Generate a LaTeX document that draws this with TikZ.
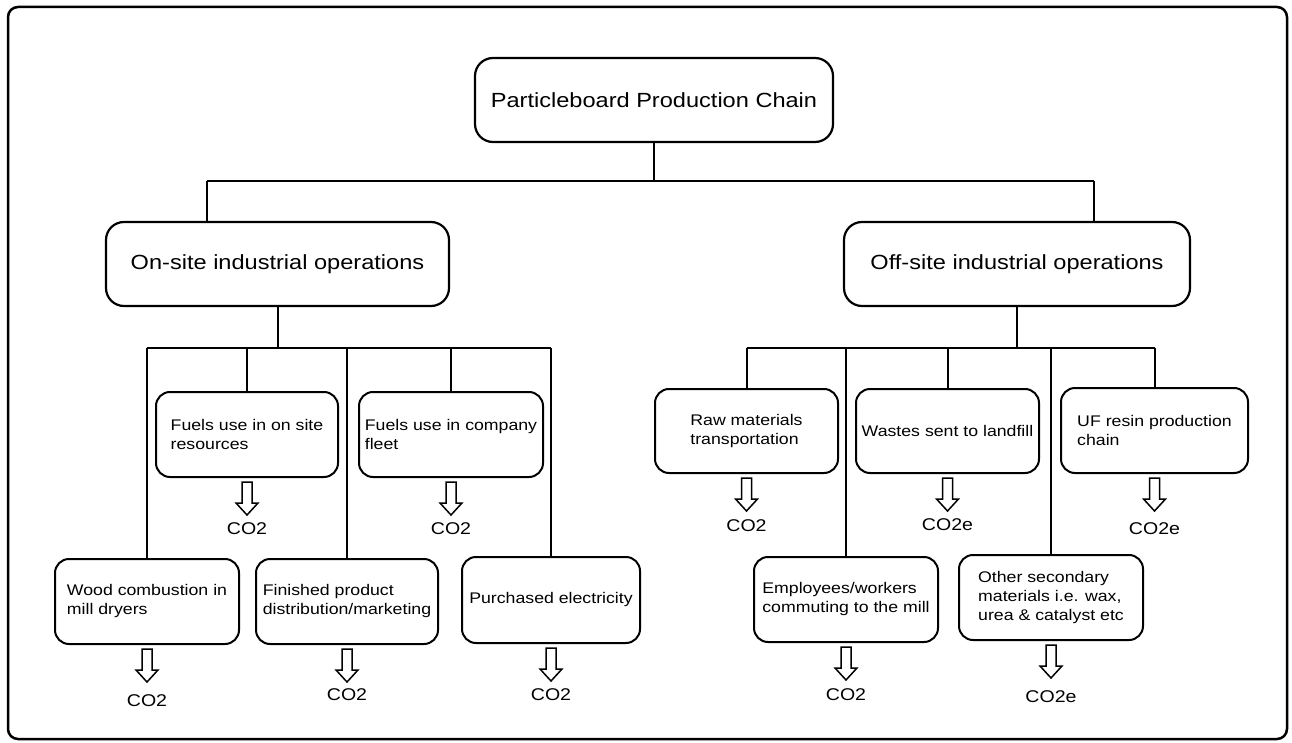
\documentclass[tikz,border=0pt]{standalone}
\usepackage{fontspec}
\setmainfont{Liberation Sans}[FakeStretch=1.15]
\begin{document}
\begin{tikzpicture}[x=1pt,y=-1pt,
  box/.style={draw, line width=2pt, rounded corners=14pt, align=left, inner sep=2pt,
    minimum width=183pt, minimum height=85pt, font=\fontsize{15.4}{19}\selectfont},
  bigbox/.style={draw, line width=2.2pt, rounded corners=18pt, inner sep=0pt,
    minimum height=84pt, font=\fontsize{20.5}{24}\selectfont},
  conn/.style={line width=2pt},
  lbl/.style={font=\fontsize{17}{20}\selectfont, inner sep=0pt},
  emarrow/.pic={\draw[line width=1.5pt, line join=miter]
    (-5,0) -- (-5,21) -- (-11,21) -- (0,33) -- (11,21) -- (5,21) -- (5,0) -- cycle;}
]
\useasboundingbox (0,0) rectangle (1292,743);
\draw[line width=2.5pt, rounded corners=10pt] (8,7) rectangle (1287,739);

% top level
\node[bigbox, minimum width=358pt] (title) at (654,100) {Particleboard Production Chain};
\node[bigbox, minimum width=343pt] (onsite) at (277.5,264) {On-site industrial operations};
\node[bigbox, minimum width=346pt] (offsite) at (1017,264) {Off-site industrial operations};

% on-site children
\node[box, minimum width=182pt] (fuels1) at (247,434.5) {Fuels use in on site\\resources};
\node[box, minimum width=184pt] (fuels2) at (451,434.5) {Fuels use in company\\fleet};
\node[box, minimum width=184pt] (wood) at (147,601.5) {Wood combustion in\\mill dryers};
\node[box, minimum width=182pt] (finished) at (347,601.5) {Finished product\\distribution/marketing};
\node[box, minimum width=178pt, minimum height=86pt] (purch) at (551,600) {Purchased electricity};

% off-site children
\node[box, minimum height=84pt] (raw) at (746.5,431) {Raw materials\\transportation};
\node[box, minimum height=84pt] (wastes) at (947.5,431) {Wastes sent to landfill};
\node[box, minimum width=187pt] (uf) at (1154.5,430.5) {UF resin production\\chain};
\node[box, minimum width=184pt] (empl) at (846,599.5) {Employees/workers\\commuting to the mill};
\node[box, minimum width=184pt] (other) at (1051,597.5) {Other secondary\\materials i.e. wax,\\urea \& catalyst etc};

% connectors
\coordinate (busL) at (207,181);
\coordinate (busR) at (1094,181);
\draw[conn] (title.south) -- (title.south |- busL);
\draw[conn] (busL) -- (busR);
\draw[conn] (busL) -- (busL |- onsite.north);
\draw[conn] (busR) -- (busR |- offsite.north);

\coordinate (onbus) at (0,348);
\draw[conn] (onsite.south) -- (onsite.south |- onbus);
\draw[conn] (wood.north |- onbus) -- (purch.north |- onbus);
\foreach \b in {wood,fuels1,finished,fuels2,purch}
  \draw[conn] (\b.north |- onbus) -- (\b.north);

\draw[conn] (offsite.south) -- (offsite.south |- onbus);
\draw[conn] (raw.north |- onbus) -- (uf.north |- onbus);
\foreach \b in {raw,empl,wastes,other,uf}
  \draw[conn] (\b.north |- onbus) -- (\b.north);

% emission arrows and labels
\foreach \b in {fuels1,fuels2,wood,finished,purch,raw,wastes,uf,empl,other}
  \pic at ([yshift=-4pt]\b.south) {emarrow};

\node[lbl] (e1) at ([yshift=-51pt]fuels1.south) {CO2};
\node[lbl] (e2) at ([yshift=-51pt]fuels2.south) {CO2};
\node[lbl] (e3) at ([yshift=-56pt]wood.south) {CO2};
\node[lbl] (e4) at ([yshift=-50pt]finished.south) {CO2};
\node[lbl] (e5) at ([yshift=-51pt]purch.south) {CO2};
\node[lbl] (e6) at ([yshift=-52pt]raw.south) {CO2};
\node[lbl] (e7) at ([yshift=-51pt]wastes.south) {CO2e};
\node[lbl] (e8) at ([yshift=-55pt]uf.south) {CO2e};
\node[lbl] (e9) at ([yshift=-52pt]empl.south) {CO2};
\node[lbl] (e10) at ([yshift=-56pt]other.south) {CO2e};
\end{tikzpicture}
\end{document}
